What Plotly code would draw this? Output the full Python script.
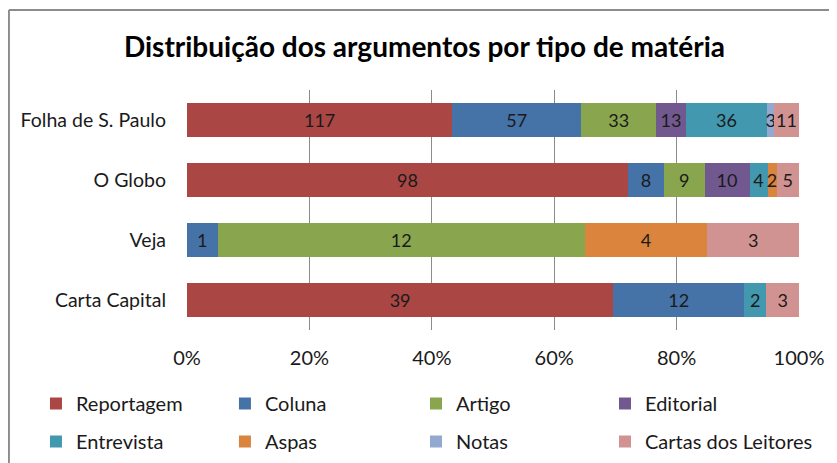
import plotly.graph_objects as go

# Vehicles, top to bottom as drawn
vehicles = ["Folha de S. Paulo", "O Globo", "Veja", "Carta Capital"]

# Counts per type of article (same order as vehicles)
reportagem = [117, 98, 0, 39]
coluna = [57, 8, 1, 12]
artigo = [33, 9, 12, 0]
editorial = [13, 10, 0, 0]
entrevista = [36, 4, 0, 2]
aspas = [0, 2, 4, 0]
notas = [3, 0, 0, 0]
cartas = [11, 5, 3, 3]

# name, values, colour, legend column
series = [
    ("Reportagem", reportagem, "#AA4643", "legend"),
    ("Coluna", coluna, "#4572A7", "legend2"),
    ("Artigo", artigo, "#89A54E", "legend3"),
    ("Editorial", editorial, "#71588F", "legend4"),
    ("Entrevista", entrevista, "#4198AF", "legend"),
    ("Aspas", aspas, "#DB843D", "legend2"),
    ("Notas", notas, "#93A9CF", "legend3"),
    ("Cartas dos Leitores", cartas, "#D19392", "legend4"),
]

FONT = "Lato, 'Open Sans', sans-serif"

fig = go.Figure()

for name, values, color, leg in series:
    fig.add_trace(go.Bar(
        y=vehicles,
        x=values,
        name=name,
        legend=leg,
        legendgroup=name,
        orientation="h",
        marker=dict(color=color, line=dict(width=0)),
        text=[str(v) if v > 0 else "" for v in values],
        textposition="inside",
        insidetextanchor="middle",
        textangle=0,
        constraintext="none",
        textfont=dict(color="#1a1a1a", size=18, family=FONT),
        hoverinfo="skip",
    ))

# Outer frame (top and left edges visible in the reference)
frame = dict(color="#8c8c8c", width=2)
fig.add_shape(type="line", xref="paper", yref="paper",
              x0=-0.291, x1=1.1, y0=1.333, y1=1.333, line=frame)
fig.add_shape(type="line", xref="paper", yref="paper",
              x0=-0.291, x1=-0.291, y0=1.333, y1=-0.6, line=frame)

# One vertical legend per column, two rows each
legend_style = dict(
    orientation="v",
    yanchor="top",
    y=-0.225,
    xanchor="left",
    traceorder="grouped",
    tracegroupgap=9,
    font=dict(size=20, family=FONT, color="#1a1a1a"),
    itemclick=False,
    itemdoubleclick=False,
    bgcolor="rgba(0,0,0,0)",
)

fig.update_layout(
    width=837,
    height=463,
    barmode="stack",
    barnorm="percent",
    bargap=0.42,
    paper_bgcolor="white",
    plot_bgcolor="white",
    font=dict(family=FONT, color="#1a1a1a", size=19),
    title=dict(
        text="<b>Distribuição dos argumentos por tipo de matéria</b>",
        xref="container", x=0.4976, xanchor="center",
        yref="container", y=0.916, yanchor="middle",
        font=dict(size=28, family=FONT, color="black"),
    ),
    xaxis=dict(
        range=[0, 100],
        tickvals=[0, 20, 40, 60, 80, 100],
        ticktext=["0%", "20%", "40%", "60%", "80%", "100%"],
        showgrid=True,
        gridcolor="#8c8c8c",
        gridwidth=1,
        zeroline=False,
        showline=False,
        ticks="",
        ticklabelstandoff=14,
        tickfont=dict(size=20),
        fixedrange=True,
    ),
    yaxis=dict(
        autorange="reversed",
        showgrid=False,
        ticks="",
        showline=False,
        ticklabelstandoff=20,
        tickfont=dict(size=19.5),
        fixedrange=True,
    ),
    legend=dict(legend_style, x=-0.2468),
    legend2=dict(legend_style, x=0.062),
    legend3=dict(legend_style, x=0.3742),
    legend4=dict(legend_style, x=0.683),
    margin=dict(l=179, r=46, t=82, b=141, autoexpand=False),
    showlegend=True,
)

fig.write_html("out.html")
